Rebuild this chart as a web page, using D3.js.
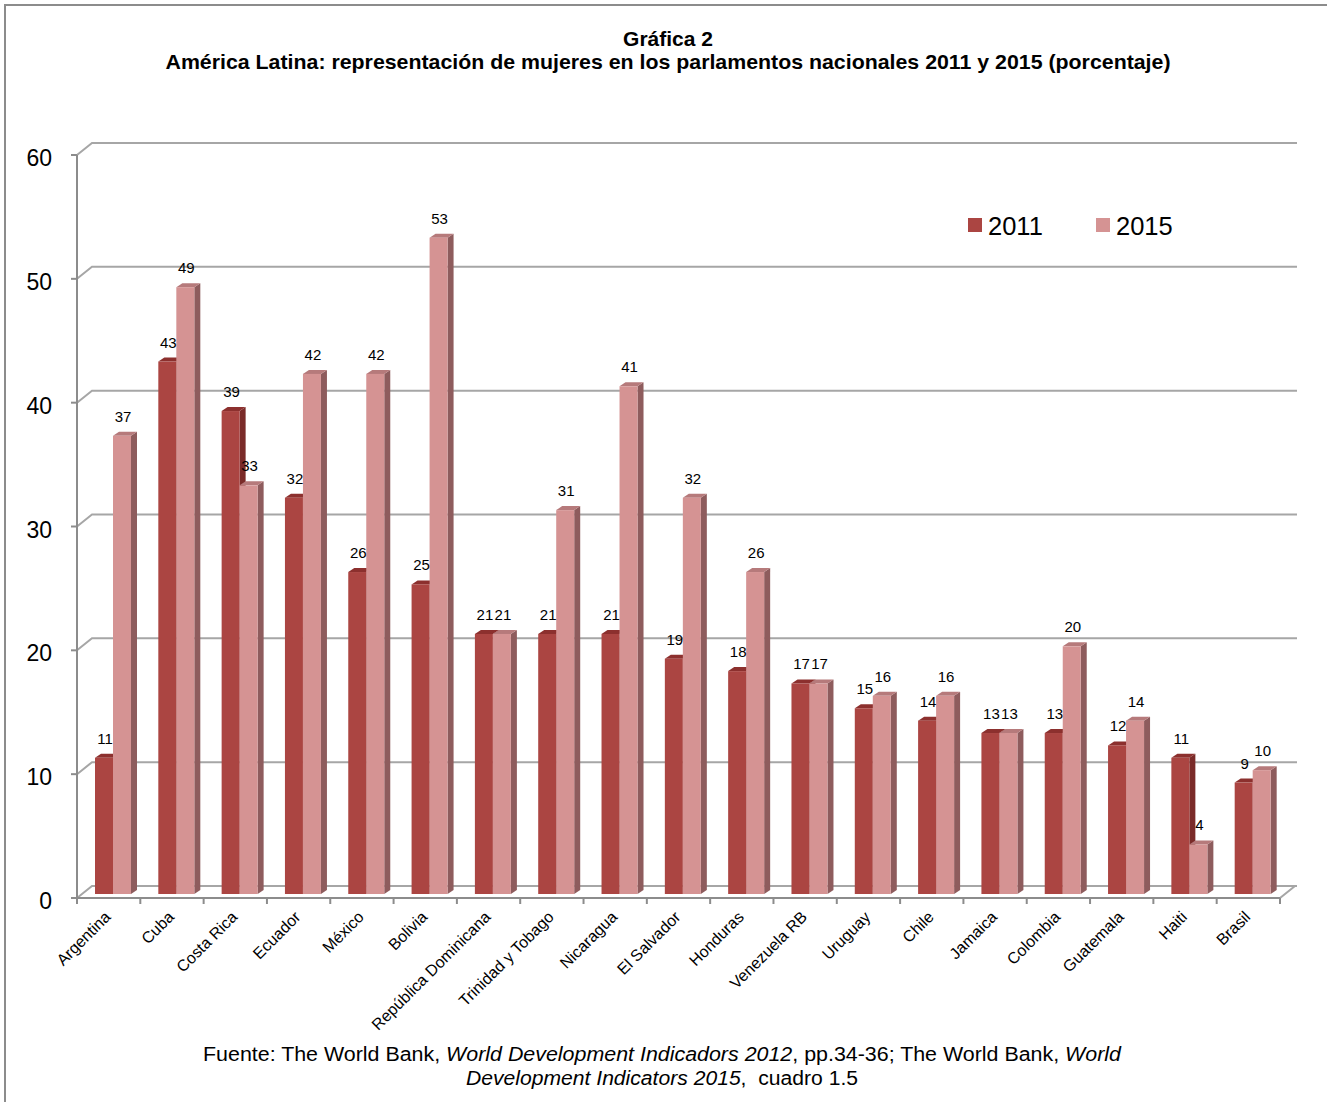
<!DOCTYPE html>
<html>
<head>
<meta charset="utf-8">
<script src="https://cdn.jsdelivr.net/npm/d3@7"></script>
<style>
  body { margin: 0; background: #fff; }
  svg { display: block; font-family: Arial, "Liberation Sans", sans-serif; }
</style>
</head>
<body>
<div id="chart"></div>
<script>
// data
const countries = ['Argentina', 'Cuba', 'Costa Rica', 'Ecuador', 'México', 'Bolivia',
    'República Dominicana', 'Trinidad y Tobago', 'Nicaragua', 'El Salvador', 'Honduras',
    'Venezuela RB', 'Uruguay', 'Chile', 'Jamaica', 'Colombia', 'Guatemala', 'Haiti', 'Brasil'];
const values2011 = [11, 43, 39, 32, 26, 25, 21, 21, 21, 19, 18, 17, 15, 14, 13, 13, 12, 11, 9];
const values2015 = [37, 49, 33, 42, 42, 53, 21, 31, 41, 32, 26, 17, 16, 16, 13, 20, 14, 4, 10];
const seriesNames = ['2011', '2015'];
const yTicks = [0, 10, 20, 30, 40, 50, 60];

const W = 1327, H = 1102;
const wall = { dx: 15, dy: -12 };   // depth of the back wall
const barShift = { dx: 5, dy: -4 }; // bars sit midway into the floor
const barDepth = { dx: 6, dy: -4 };

const colors = {
    '2011': { front: '#ab4542', top: '#8c302e', side: '#7a2b29' },
    '2015': { front: '#d59393', top: '#b67a7b', side: '#8e5c5d' }
};

const svg = d3.select('#chart').append('svg')
    .attr('width', W).attr('height', H);

// outer frame (runs off the right and bottom edge)
svg.append('rect')
    .attr('x', 5).attr('y', 5).attr('width', W + 10).attr('height', H + 10)
    .attr('fill', 'none').attr('stroke', '#8c8c8c').attr('stroke-width', 2);

// titles
svg.append('text')
    .attr('x', 668).attr('y', 46).attr('text-anchor', 'middle')
    .attr('font-size', 21).attr('font-weight', 700)
    .text('Gráfica 2');
svg.append('text')
    .attr('x', 668).attr('y', 69).attr('text-anchor', 'middle')
    .attr('font-size', 21).attr('font-weight', 700)
    .attr('textLength', 1005).attr('lengthAdjust', 'spacingAndGlyphs')
    .text('América Latina: representación de mujeres en los parlamentos nacionales 2011 y 2015 (porcentaje)');

const x = d3.scaleBand().domain(countries).range([77, 1280]);
const xs = d3.scaleBand().domain(seriesNames).range([13, 49]);
const y = d3.scaleLinear().domain([0, 60]).range([898, 155]);

// walls and gridlines
const grid = svg.append('g').attr('fill', 'none').attr('stroke', '#a6a6a6').attr('stroke-width', 2);
grid.selectAll('path.grid')
    .data(yTicks)
    .join('path')
        .attr('class', 'grid')
        .attr('d', t => `M${x.range()[0]},${y(t)} L${x.range()[0] + wall.dx},${y(t) + wall.dy} L${1297},${y(t) + wall.dy}`);

// floor front edge and right side
grid.append('path')
    .attr('d', `M${x.range()[0]},${y(0)} L${x.range()[1]},${y(0)} L${x.range()[1] + wall.dx},${y(0) + wall.dy}`);

// y axis
const axisG = svg.append('g').attr('stroke', '#8c8c8c').attr('stroke-width', 2).attr('fill', 'none');
axisG.append('line')
    .attr('x1', 77).attr('x2', 77).attr('y1', y(60)).attr('y2', y(0));
axisG.selectAll('line.ytick')
    .data(yTicks)
    .join('line')
        .attr('class', 'ytick')
        .attr('x1', 71).attr('x2', 77)
        .attr('y1', t => y(t)).attr('y2', t => y(t));
axisG.append('line')
    .attr('x1', 77).attr('x2', 1280).attr('y1', y(0)).attr('y2', y(0));
axisG.selectAll('line.xtick')
    .data(d3.range(countries.length + 1))
    .join('line')
        .attr('class', 'xtick')
        .attr('x1', i => 77 + i * x.bandwidth()).attr('x2', i => 77 + i * x.bandwidth())
        .attr('y1', y(0)).attr('y2', y(0) + 6);

svg.append('g').selectAll('text')
    .data(yTicks)
    .join('text')
        .attr('x', 52).attr('y', t => y(t) + 11)
        .attr('text-anchor', 'end')
        .attr('font-size', 23)
        .text(t => t);

// x labels
svg.append('g').selectAll('text')
    .data(countries)
    .join('text')
        .attr('transform', c => `translate(${x(c) + x.bandwidth() / 2 + 3},${y(0) + 20}) rotate(-45)`)
        .attr('text-anchor', 'end')
        .attr('font-size', 16)
        .text(c => c);

// bars
const rows = [];
countries.forEach((c, i) => {
    rows.push({ country: c, series: '2011', value: values2011[i] });
    rows.push({ country: c, series: '2015', value: values2015[i] });
});

const geom = d => {
    const x0 = x(d.country) + xs(d.series) + barShift.dx;
    const x1 = x0 + xs.bandwidth();
    const top = y(d.value) + barShift.dy;
    const bot = y(0) + barShift.dy;
    return { x0, x1, top, bot };
};

const barG = svg.append('g').selectAll('g.bar')
    .data(rows)
    .join('g')
        .attr('class', 'bar');

barG.append('path')
    .attr('fill', d => colors[d.series].side)
    .attr('d', d => {
        const g = geom(d);
        return `M${g.x1},${g.top} L${g.x1 + barDepth.dx},${g.top + barDepth.dy} L${g.x1 + barDepth.dx},${g.bot + barDepth.dy} L${g.x1},${g.bot} Z`;
    });
barG.append('path')
    .attr('fill', d => colors[d.series].top)
    .attr('d', d => {
        const g = geom(d);
        return `M${g.x0},${g.top} L${g.x0 + barDepth.dx},${g.top + barDepth.dy} L${g.x1 + barDepth.dx},${g.top + barDepth.dy} L${g.x1},${g.top} Z`;
    });
barG.append('rect')
    .attr('fill', d => colors[d.series].front)
    .attr('x', d => geom(d).x0)
    .attr('y', d => geom(d).top)
    .attr('width', xs.bandwidth())
    .attr('height', d => geom(d).bot - geom(d).top);

// value labels
svg.append('g').selectAll('text')
    .data(rows)
    .join('text')
        .attr('x', d => (geom(d).x0 + geom(d).x1) / 2 + 1)
        .attr('y', d => geom(d).top - 14)
        .attr('text-anchor', 'middle')
        .attr('font-size', 15)
        .text(d => d.value);

// legend
const legend = svg.append('g').selectAll('g')
    .data(seriesNames)
    .join('g')
        .attr('transform', (s, i) => `translate(${968 + i * 128},218)`);
legend.append('rect')
    .attr('width', 14).attr('height', 14)
    .attr('fill', s => colors[s].front);
legend.append('text')
    .attr('x', 20).attr('y', 17)
    .attr('font-size', 25.5)
    .text(s => s);

// source note
const note = svg.append('g')
    .attr('font-family', '"Liberation Sans Narrow", "Arial Narrow", Arial, sans-serif')
    .attr('font-size', 20)
    .attr('text-anchor', 'middle');
const line1 = note.append('text').attr('x', 662).attr('y', 1061)
    .attr('textLength', 918).attr('lengthAdjust', 'spacingAndGlyphs');
line1.append('tspan').text('Fuente: The World Bank, ');
line1.append('tspan').attr('font-style', 'italic').text('World Development Indicadors 2012');
line1.append('tspan').text(', pp.34-36; The World Bank, ');
line1.append('tspan').attr('font-style', 'italic').text('World');
const line2 = note.append('text').attr('x', 662).attr('y', 1085)
    .attr('textLength', 392).attr('lengthAdjust', 'spacingAndGlyphs');
line2.append('tspan').attr('font-style', 'italic').text('Development Indicators 2015');
line2.append('tspan').text(',\u00a0\u00a0cuadro 1.5');
</script>
</body>
</html>
